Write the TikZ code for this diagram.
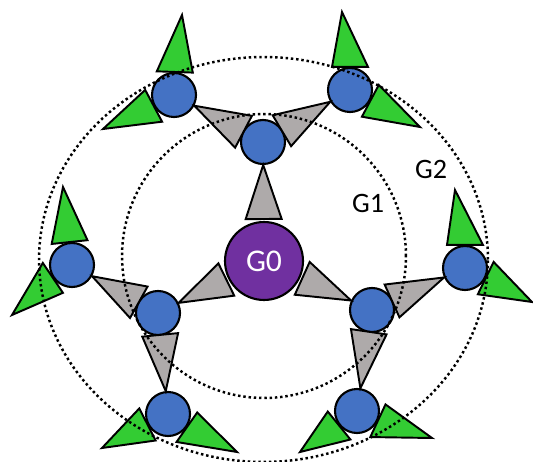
\documentclass[tikz,border=0pt]{standalone}
\usepackage{fontspec}
\setmainfont{Carlito}
\usetikzlibrary{calc}

\definecolor{corepurple}{HTML}{7030A0}
\definecolor{unitblue}{HTML}{4472C4}
\definecolor{wedgegray}{HTML}{AEAAAA}
\definecolor{leafgreen}{HTML}{33CC33}

\begin{document}
\begin{tikzpicture}[
	x=0.02cm, y=-0.02cm,
	font=\fontsize{16}{18}\selectfont,
	core/.style={
		circle, draw=black, line width=1.2pt,
		fill=corepurple, text=white,
		minimum size=1.56cm, inner sep=0pt,
		font=\fontsize{18}{20}\selectfont
	},
	unit/.style={
		circle, draw=black, line width=1.2pt,
		fill=unitblue,
		minimum size=0.88cm, inner sep=0pt
	},
	wedge/.style={draw=black, line width=1.1pt, fill=wedgegray},
	leaf/.style={draw=black, line width=1.1pt, fill=leafgreen},
	ring/.style={line width=1.4pt, dash pattern=on 1.4pt off 1.6pt},
	lbl/.style={text=black}
]

\useasboundingbox (0,0) rectangle (533,462);

% Core
\node[core] (g0) at (264,261) {G0};

% Generation 1
\node[unit] (gtop)   at (263,142) {};
\node[unit] (gleft)  at (158,313) {};
\node[unit] (gright) at (372,310) {};

% Generation 2
\node[unit] (ttl)  at (174,95)  {};
\node[unit] (ttr)  at (350,90)  {};
\node[unit] (lout) at (72,265)  {};
\node[unit] (lbot) at (168,414) {};
\node[unit] (rout) at (465,268) {};
\node[unit] (rbot) at (357,411) {};

% Gray wedges, base on parent, tip on child
\foreach \p/\c/\d in {g0/gtop/0.84cm, g0/gleft/0.84cm, g0/gright/0.84cm,
		gtop/ttl/0.44cm, gtop/ttr/0.44cm,
		gleft/lout/0.44cm, gleft/lbot/0.44cm,
		gright/rout/0.44cm, gright/rbot/0.44cm}
{
	\path ($(\p)!\d!(\c)$) coordinate (bm);
	\draw[wedge] ($(bm)!0.36cm!90:(\c)$) -- ($(\c)!0.46cm!(\p)$)
		-- ($(bm)!0.36cm!-90:(\c)$) -- cycle;
}

% Leaf tips
\coordinate (ttla) at (182,15);
\coordinate (ttlb) at (103,129);
\coordinate (ttra) at (342,12);
\coordinate (ttrb) at (420,127);
\coordinate (louta) at (63,187);
\coordinate (loutb) at (12,315);
\coordinate (lbota) at (102,448);
\coordinate (lbotb) at (237,452);
\coordinate (routa) at (455,190);
\coordinate (routb) at (532,302);
\coordinate (rbota) at (300,452);
\coordinate (rbotb) at (432,438);

% Green leaves
\foreach \n/\a/\t in {ttl/88/ttla, ttl/208/ttlb, ttr/90/ttra, ttr/332/ttrb,
		lout/96/louta, lout/214/loutb, lbot/207/lbota, lbot/325/lbotb,
		rout/90/routa, rout/334/routb, rbot/219/rbota, rbot/335/rbotb}
	\draw[leaf] ($(\n.\a)!0.36cm!90:(\n)$) -- (\t)
		-- ($(\n.\a)!0.36cm!-90:(\n)$) -- cycle;

% Generation rings
\coordinate (ictr) at (264,256);
\coordinate (octr) at (263.5,259.5);
\draw[ring] (ictr) circle[radius=2.84cm];
\draw[ring] (octr) ellipse[x radius=4.49cm, y radius=4.05cm];

\node[lbl] (lgone) at (368,203) {G1};
\node[lbl] (lgtwo) at (431,169) {G2};

\end{tikzpicture}
\end{document}
